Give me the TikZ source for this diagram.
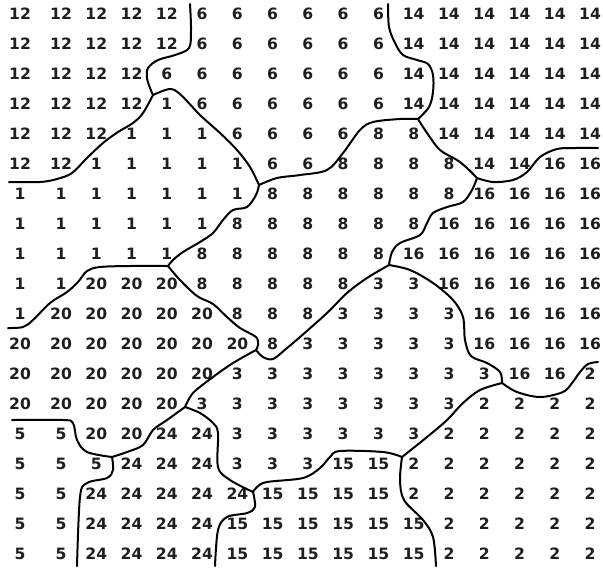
\documentclass[tikz,border=0pt]{standalone}
\usepackage{fontspec}
\usepackage{tikz}
\newfontfamily\numfont{DejaVu Sans}
\definecolor{ink}{RGB}{30,30,30}

\begin{document}
\begin{tikzpicture}[x=0.5pt,y=-0.5pt,
  num/.style={font=\fontsize{7.8}{9}\selectfont\numfont\bfseries,text=ink,inner sep=0pt},
  border/.style={line width=1pt,line cap=round,line join=round,smooth,tension=0.55}
]
\useasboundingbox (0,0) rectangle (603,569);

% cluster labels, row by row
\foreach \row [count=\r] in {
  {12,12,12,12,12,6,6,6,6,6,6,14,14,14,14,14,14},
  {12,12,12,12,12,6,6,6,6,6,6,14,14,14,14,14,14},
  {12,12,12,12,6,6,6,6,6,6,6,14,14,14,14,14,14},
  {12,12,12,12,1,6,6,6,6,6,6,14,14,14,14,14,14},
  {12,12,12,1,1,1,6,6,6,6,8,8,14,14,14,14,14},
  {12,12,1,1,1,1,1,6,6,8,8,8,8,14,14,16,16},
  {1,1,1,1,1,1,1,8,8,8,8,8,8,16,16,16,16},
  {1,1,1,1,1,1,8,8,8,8,8,8,16,16,16,16,16},
  {1,1,1,1,1,8,8,8,8,8,8,16,16,16,16,16,16},
  {1,1,20,20,20,8,8,8,8,8,3,3,16,16,16,16,16},
  {1,20,20,20,20,20,8,8,8,3,3,3,3,16,16,16,16},
  {20,20,20,20,20,20,20,8,3,3,3,3,3,16,16,16,16},
  {20,20,20,20,20,20,3,3,3,3,3,3,3,3,16,16,2},
  {20,20,20,20,20,3,3,3,3,3,3,3,3,2,2,2,2},
  {5,5,20,20,24,24,3,3,3,3,3,3,2,2,2,2,2},
  {5,5,5,24,24,24,3,3,3,15,15,2,2,2,2,2,2},
  {5,5,24,24,24,24,24,15,15,15,15,2,2,2,2,2,2},
  {5,5,24,24,24,24,15,15,15,15,15,15,2,2,2,2,2},
  {5,5,24,24,24,24,15,15,15,15,15,15,2,2,2,2,2}} {
  \foreach \v [count=\c] in \row {
    \pgfmathsetmacro\xc{\c==1 ? 20 : 61+35.27*(\c-2)}
    \pgfmathsetmacro\yc{13.5+30*(\r-1)}
    \node[num] (n\r-\c) at (\xc,\yc) {\v};
  }
}

% junctions where three clusters meet
\coordinate (j1)  at (153,95);
\coordinate (j2)  at (259,185);
\coordinate (j3)  at (168,266);
\coordinate (j4)  at (418,119);
\coordinate (j5)  at (477,178);
\coordinate (j6)  at (389,265);
\coordinate (j7)  at (256,350);
\coordinate (j8)  at (502,383);
\coordinate (j9)  at (402,457);
\coordinate (j10) at (253,492);
\coordinate (j11) at (185,407);
\coordinate (j12) at (112,457);
% free ends on the frame
\coordinate (top1) at (190,4);
\coordinate (top2) at (388,4);
\coordinate (lft1) at (9,182);
\coordinate (lft2) at (8,328);
\coordinate (lft3) at (12,420);
\coordinate (bot1) at (77,566);
\coordinate (bot2) at (215,566);
\coordinate (bot3) at (436,566);
\coordinate (rgt1) at (598,148);
\coordinate (rgt2) at (598,362);

% cluster borders
\draw[border] plot coordinates {(top1) (191,30) (189,48) (175,55) (158,60) (148,68) (147,78) (150,88) (j1)};
\draw[border] plot coordinates {(j1) (170,89) (181,95) (200,115) (220,133) (237,150) (250,167) (j2)};
\draw[border] plot coordinates {(j1) (143,113) (133,123) (118,132) (103,143) (87,158) (72,173) (57,179) (40,182) (lft1)};
\draw[border] plot coordinates {(j2) (277,178) (300,175) (327,170) (343,153) (360,130) (373,122) (400,119) (j4)};
\draw[border] plot coordinates {(j2) (256,195) (247,207) (233,210) (223,220) (213,233) (200,242) (183,252) (173,260) (j3)};
\draw[border] plot coordinates {(top2) (389,27) (395,43) (403,55) (417,60) (428,64) (433,75) (433,92) (429,107) (j4)};
\draw[border] plot coordinates {(j4) (427,133) (440,150) (457,160) (467,168) (j5)};
\draw[border] plot coordinates {(j5) (493,182) (513,180) (527,172) (540,157) (557,149) (575,148) (rgt1)};
\draw[border] plot coordinates {(j5) (472,190) (463,202) (447,207) (433,213) (427,223) (420,235) (400,243) (392,252) (j6)};
\draw[border] plot coordinates {(j6) (367,278) (347,293) (327,313) (300,337) (287,348) (273,359) (263,357) (j7)};
\draw[border] plot coordinates {(j3) (180,280) (197,296) (213,304) (227,317) (240,328) (256,337) (258,345) (j7)};
\draw[border] plot coordinates {(j3) (130,266) (100,267) (87,271) (78,282) (67,292) (50,303) (33,320) (23,327) (lft2)};
\draw[border] plot coordinates {(j6) (410,270) (433,283) (453,300) (463,317) (465,340) (471,356) (487,363) (500,372) (j8)};
\draw[border] plot coordinates {(j8) (517,392) (540,397) (563,392) (572,383) (580,372) (588,364) (rgt2)};
\draw[border] plot coordinates {(j8) (480,390) (463,403) (447,420) (427,437) (j9)};
\draw[border] plot coordinates {(j9) (383,452) (340,451) (330,457) (320,468) (303,478) (267,482) (257,487) (j10)};
\draw[border] plot coordinates {(j9) (400,480) (404,500) (423,520) (433,537) (bot3)};
\draw[border] plot coordinates {(j7) (233,363) (213,377) (193,393) (j11)};
\draw[border] plot coordinates {(j11) (167,420) (153,430) (143,445) (127,452) (j12)};
\draw[border] plot coordinates {(j12) (87,452) (77,440) (73,423) (63,420) (lft3)};
\draw[border] plot coordinates {(j12) (113,470) (107,478) (87,483) (80,497) (bot1)};
\draw[border] plot coordinates {(j11) (200,413) (213,423) (218,433) (218,467) (230,480) (j10)};
\draw[border] plot coordinates {(j10) (255,507) (247,513) (227,517) (218,530) (bot2)};
\end{tikzpicture}
\end{document}
